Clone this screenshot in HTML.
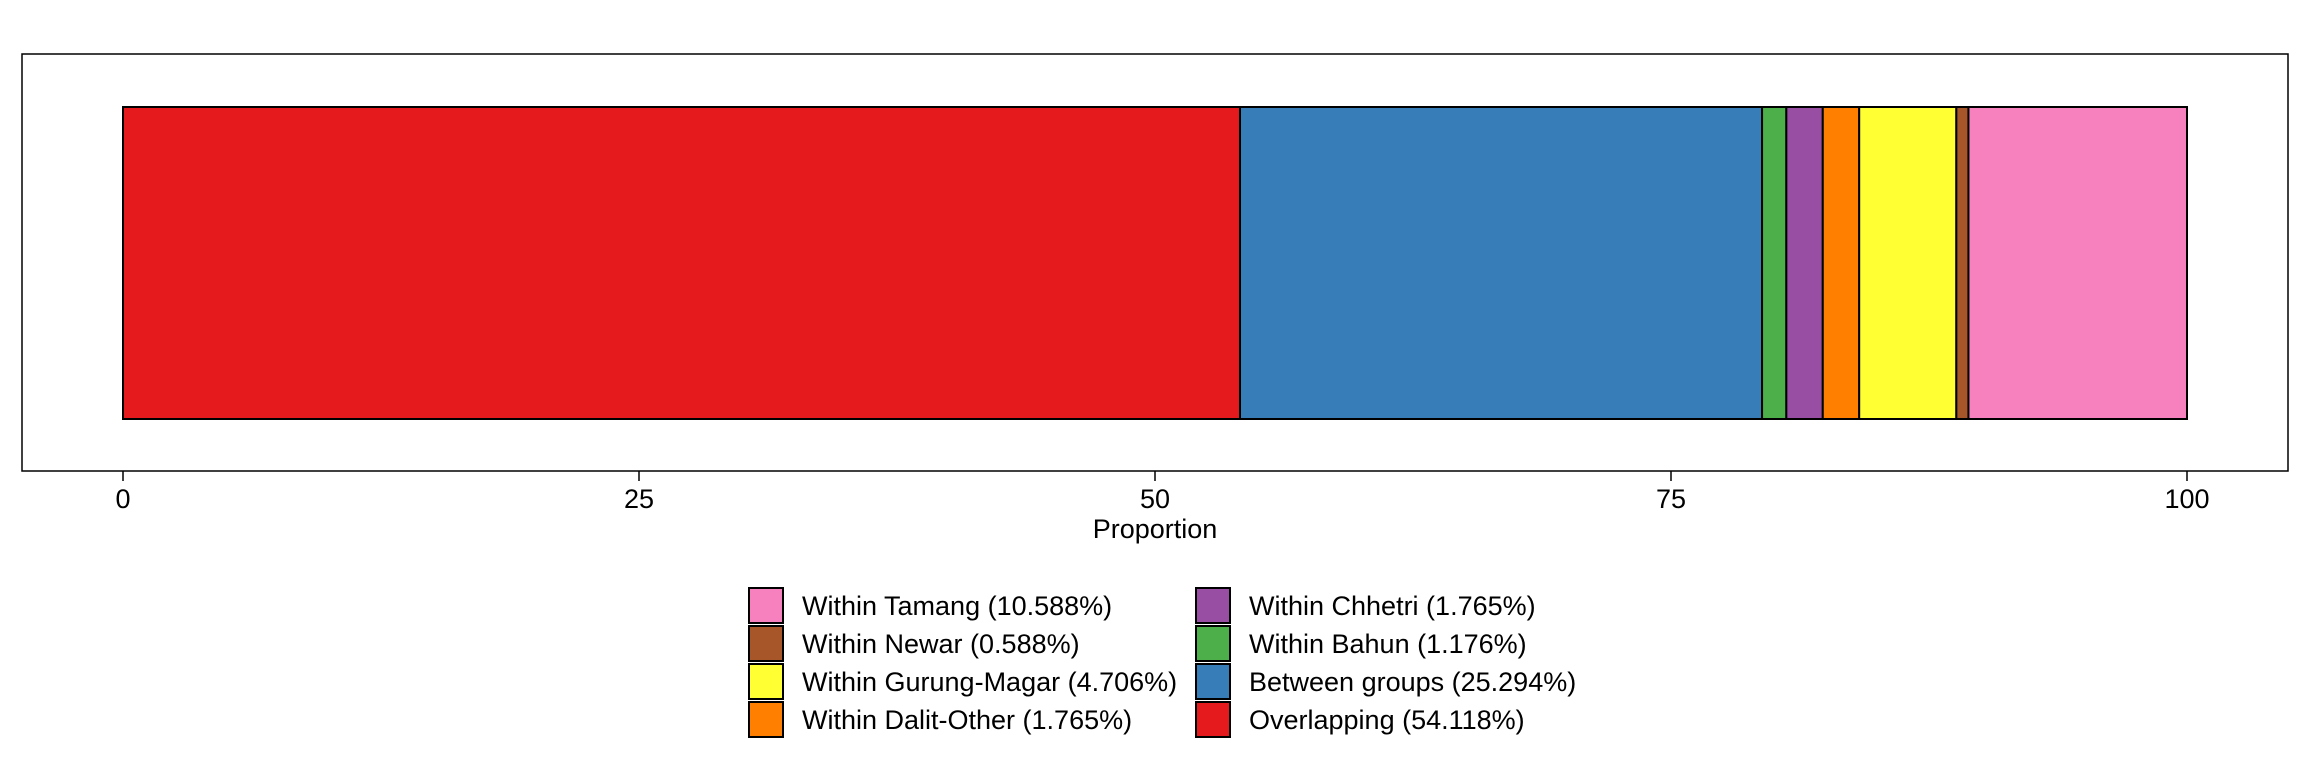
<!DOCTYPE html>
<html><head><meta charset="utf-8"><style>
body{margin:0;background:#fff;}
svg text{font-family:"Liberation Sans",Arial,sans-serif;fill:#000;}
</style></head><body>
<svg id="chart" width="2304" height="768" xmlns="http://www.w3.org/2000/svg">
<rect x="22" y="54" width="2266" height="417" fill="none" stroke="#000" stroke-width="1.5"/>
<g id="bars"></g>
<g id="axis"></g>
<text x="1155" y="538" font-size="27" text-anchor="middle">Proportion</text>
<g id="legend"></g>
</svg>
<script>
const categories=["Overlapping","Between groups","Within Bahun","Within Chhetri","Within Dalit-Other","Within Gurung-Magar","Within Newar","Within Tamang"];
const values=[54.118,25.294,1.176,1.765,1.765,4.706,0.588,10.588];
const colors=["#E41A1C","#377EB8","#4DAF4A","#984EA3","#FF7F00","#FFFF33","#A65628","#F781BF"];
const ticks=[0,25,50,75,100];
const legendOrder=[7,6,5,4,3,2,1,0];
const NS="http://www.w3.org/2000/svg";
const x=v=>123+v*(2187-123)/100;
const bars=document.getElementById('bars');
let cum=0;
values.forEach((v,i)=>{
  const r=document.createElementNS(NS,'rect');
  r.setAttribute('x',x(cum));r.setAttribute('width',x(cum+v)-x(cum));
  r.setAttribute('y',107);r.setAttribute('height',312);
  r.setAttribute('fill',colors[i]);r.setAttribute('stroke','#000');r.setAttribute('stroke-width','2');
  
  
  bars.appendChild(r);cum+=v;
});
const ax=document.getElementById('axis');
ticks.forEach(t=>{
  const l=document.createElementNS(NS,'line');
  l.setAttribute('x1',x(t));l.setAttribute('x2',x(t));l.setAttribute('y1',471);l.setAttribute('y2',481);
  l.setAttribute('stroke','#000');l.setAttribute('stroke-width','1.5');
  
  
  ax.appendChild(l);
  const tx=document.createElementNS(NS,'text');
  tx.setAttribute('x',x(t));tx.setAttribute('y',508);tx.setAttribute('font-size','27');tx.setAttribute('text-anchor','middle');
  tx.textContent=t;
  
  
  ax.appendChild(tx);
});
const lg=document.getElementById('legend');
legendOrder.forEach((ci,k)=>{
  const col=Math.floor(k/4),row=k%4;
  const kx=col?1196:749, ky=588+row*38;
  const g=document.createElementNS(NS,'g');
  
  
  const r=document.createElementNS(NS,'rect');
  r.setAttribute('x',kx);r.setAttribute('y',ky);r.setAttribute('width',34);r.setAttribute('height',35);
  r.setAttribute('fill',colors[ci]);r.setAttribute('stroke','#000');r.setAttribute('stroke-width','2');
  g.appendChild(r);
  const t=document.createElementNS(NS,'text');
  t.setAttribute('x',kx+53);t.setAttribute('y',ky+27);t.setAttribute('font-size','27');
  t.textContent=categories[ci]+' ('+values[ci].toFixed(3)+'%)';
  g.appendChild(t);
  lg.appendChild(g);
});
</script>
</body></html>
